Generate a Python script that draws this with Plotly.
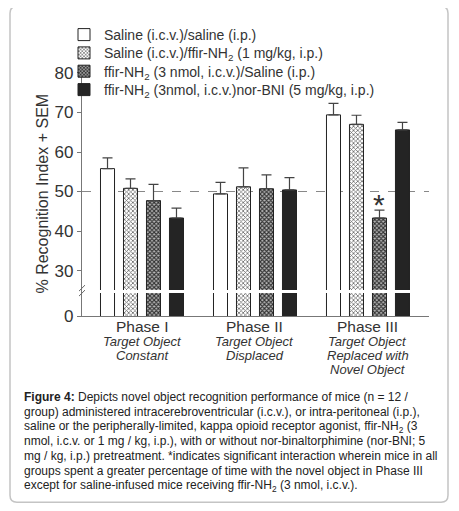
import plotly.graph_objects as go

# ---- data ----
phases = ["Phase I", "Phase II", "Phase III"]
phase_sub = [["Target Object", "Constant"],
             ["Target Object", "Displaced"],
             ["Target Object", "Replaced with", "Novel Object"]]
series_names = ["Saline (i.c.v.)/saline (i.p.)",
                "Saline (i.c.v.)/ffir-NH<sub>2</sub> (1 mg/kg, i.p.)",
                "ffir-NH<sub>2</sub> (3 nmol, i.c.v.)/Saline (i.p.)",
                "ffir-NH<sub>2</sub> (3nmol, i.c.v.)nor-BNI (5 mg/kg, i.p.)"]
saline_saline = [55.8, 49.4, 69.4]
saline_ffir = [50.8, 51.2, 67.0]
ffir_saline = [47.7, 50.7, 43.3]
ffir_norbni = [43.3, 50.4, 65.6]
sem_saline_saline = [2.7, 2.9, 2.9]
sem_saline_ffir = [2.4, 4.8, 2.3]
sem_ffir_saline = [4.1, 3.5, 2.0]
sem_ffir_norbni = [2.5, 3.1, 1.9]
ytick_vals = [18.5, 30, 40, 50, 60, 70, 80]
ytick_text = ["0", "30", "40", "50", "60", "70", "80"]

OFF = 8  # page body margin
W, H = 459 - OFF, 511 - OFF
L, R, T, B = 82 - OFF, 429 - OFF, 70 - OFF, 316 - OFF
PW, PH = R - L, B - T

def px(x):
    return (x - OFF - L) / PW

def py(y):
    return (B - (y - OFF)) / PH

x_pos = [0, 1, 2]
fig = go.Figure()
styles = [
    dict(color="white", pattern=None),
    dict(color="white", pattern=dict(shape="x", size=3, solidity=0.45, fgcolor="#666", bgcolor="white", fillmode="replace")),
    dict(color="white", pattern=dict(shape="x", size=3, solidity=0.6, fgcolor="#333", bgcolor="#bbb", fillmode="replace")),
    dict(color="#242424", pattern=None),
]
legend_ids = ["legend", "legend2", "legend3", "legend4"]
legend_y = [35, 53.3, 71.6, 90]
vals = [saline_saline, saline_ffir, ffir_saline, ffir_norbni]
sems = [sem_saline_saline, sem_saline_ffir, sem_ffir_saline, sem_ffir_norbni]
for name, v, s, st, lg in zip(series_names, vals, sems, styles, legend_ids):
    marker = dict(color=st["color"], line=dict(color="#222", width=1))
    if st["pattern"]:
        marker["pattern"] = st["pattern"]
    fig.add_trace(go.Bar(
        x=x_pos, y=v, name=name, marker=marker, legend=lg,
        error_y=dict(type="data", array=s, arrayminus=[0] * len(s), symmetric=False,
                     color="#444", thickness=1.2, width=5),
    ))

shapes = []
# reference line at 50
shapes.append(dict(type="line", xref="paper", x0=0, x1=1, yref="y", y0=50, y1=50,
                   line=dict(color="#888", width=1.2, dash="dash"), layer="below"))
# axis break
shapes.append(dict(type="rect", xref="paper", x0=0.003, x1=1, yref="y", y0=24.3, y1=25.1,
                   fillcolor="white", line=dict(width=0), layer="above"))
shapes.append(dict(type="line", xref="paper", yref="paper",
                   x0=px(79), x1=px(85), y0=py(291), y1=py(285), line=dict(color="#666", width=1)))
shapes.append(dict(type="line", xref="paper", yref="paper",
                   x0=px(79), x1=px(85), y0=py(296), y1=py(290), line=dict(color="#666", width=1)))
# outer frame (rounded)
x0, x1, y0, y1, r = px(10), px(448), py(503), py(5), 7
rx, ry = r / PW, r / PH
path = (f"M{x0+rx},{y0} L{x1-rx},{y0} Q{x1},{y0} {x1},{y0+ry} L{x1},{y1-ry} Q{x1},{y1} {x1-rx},{y1} "
        f"L{x0+rx},{y1} Q{x0},{y1} {x0},{y1-ry} L{x0},{y0+ry} Q{x0},{y0} {x0+rx},{y0} Z")
shapes.append(dict(type="path", xref="paper", yref="paper", path=path,
                   line=dict(color="#c4c4c4", width=1.5), layer="below"))

annotations = []
for i, (p, subs) in enumerate(zip(phases, phase_sub)):
    annotations.append(dict(x=x_pos[i], xref="x", y=py(327), yref="paper", text=p, showarrow=False,
                            font=dict(family="Arial", size=15.5, color="#333"), xanchor="center", yanchor="middle"))
    for j, s in enumerate(subs):
        annotations.append(dict(x=x_pos[i], xref="x", y=py(342 + 14 * j), yref="paper", text=f"<i>{s}</i>",
                                showarrow=False, font=dict(family="Arial", size=13, color="#333"),
                                xanchor="center", yanchor="middle"))
# asterisk
annotations.append(dict(x=x_pos[2] + 0.1, xref="x", y=42.0, yref="y",
                        text="*", showarrow=False, font=dict(family="Arial", size=30, color="#333"),
                        xanchor="center", yanchor="bottom"))
# y axis title
annotations.append(dict(x=px(42), y=py(193), xref="paper", yref="paper", text="% Recognition Index + SEM",
                        textangle=-90, showarrow=False, font=dict(family="Arial", size=16, color="#333"),
                        xanchor="center", yanchor="middle"))
caption = [
    "<b>Figure 4:</b> Depicts novel object recognition performance of mice (n = 12 /",
    "group) administered intracerebroventricular (i.c.v.), or intra-peritoneal (i.p.),",
    "saline or the peripherally-limited, kappa opioid receptor agonist, ffir-NH<sub>2</sub> (3",
    "nmol, i.c.v. or 1 mg / kg, i.p.), with or without nor-binaltorphimine (nor-BNI; 5",
    "mg / kg, i.p.) pretreatment. *indicates significant interaction wherein mice in all",
    "groups spent a greater percentage of time with the novel object in Phase III",
    "except for saline-infused mice receiving ffir-NH<sub>2</sub> (3 nmol, i.c.v.).",
]
for k, line in enumerate(caption):
    annotations.append(dict(x=px(22), y=py(397 + 15 * k), xref="paper", yref="paper", text=line,
                            showarrow=False, font=dict(family="Arial", size=12, color="#222"),
                            xanchor="left", yanchor="middle", align="left"))

legend_common = dict(xanchor="left", yanchor="middle", bgcolor="rgba(0,0,0,0)",
                     font=dict(family="Arial", size=14, color="#333"), itemwidth=30)
layout_legends = {}
for lg, ly in zip(legend_ids, legend_y):
    layout_legends[lg] = dict(x=px(64), y=py(ly), **legend_common)

fig.update_layout(
    width=W, height=H,
    margin=dict(l=L, r=W - R, t=T, b=H - B),
    paper_bgcolor="white", plot_bgcolor="white",
    barmode="group", bargap=0.186, bargroupgap=0.39,
    showlegend=True,
    shapes=shapes, annotations=annotations,
    font=dict(family="Arial"),
    **layout_legends,
)
fig.update_xaxes(range=[-0.531, 2.54], showticklabels=False, ticks="", showgrid=False, zeroline=False,
                 showline=True, linecolor="#777", linewidth=1.2)
fig.update_yaxes(range=[18.5, 80.5], tickvals=ytick_vals, ticktext=ytick_text, showgrid=False, zeroline=False,
                 showline=True, linecolor="#777", linewidth=1.2, ticks="outside", ticklen=4, tickcolor="#777",
                 tickfont=dict(family="Arial", size=17, color="#333"))

fig.write_html("out.html")
